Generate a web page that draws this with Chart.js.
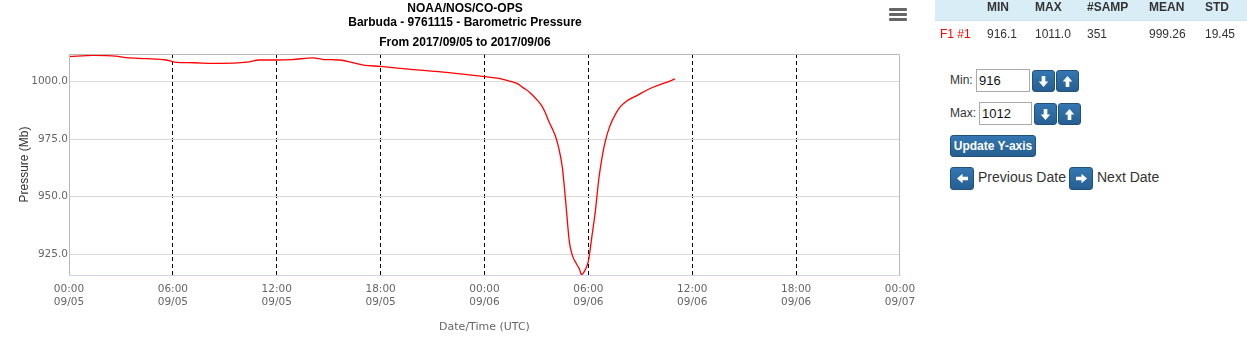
<!DOCTYPE html>
<html>
<head>
<meta charset="utf-8">
<script src="https://cdn.jsdelivr.net/npm/chart.js@4"></script>
<style>
  body { margin: 0; background: #fff; width: 1247px; height: 342px; overflow: hidden; position: relative;
         font-family: "Liberation Sans", Arial, sans-serif; color: #333; }
  #chartWrap { position: absolute; left: 0; top: 0; width: 930px; height: 342px; }
  .ttl { position: absolute; left: 0; width: 930px; text-align: center; font-weight: bold; font-size: 12px;
         line-height: 14px; color: #000; }
  #menu { position: absolute; left: 889px; top: 8px; width: 18px; }
  #menu span { display: block; height: 2.5px; background: #666; margin-bottom: 2.5px; border-radius: 1px; }

  #stats { position: absolute; left: 935px; top: 0; width: 312px; height: 46px; font-size: 12px; }
  #stats .head { position: absolute; left: 0; top: -6px; width: 312px; height: 26px; background: #d9edf7;
                 border-bottom: 1px solid #cfe3ee; }
  #stats span { position: absolute; white-space: nowrap; }
  #stats .h { font-weight: bold; top: 0; }
  #stats .d { top: 27px; }

  .lbl { position: absolute; font-size: 12px; color: #333; }
  .inp { position: absolute; box-sizing: border-box; border: 1px solid #aaa; background: #fff; font-size: 13px;
         padding: 3px 0 0 2px; color: #111; }
  .btn { position: absolute; box-sizing: border-box; border: 1px solid #22527b; border-radius: 3px;
         background: linear-gradient(#3477b2, #265f92); color: #fff; display: flex; align-items: center;
         justify-content: center; }
  .btn svg { width: 11px; height: 11px; }
  .btn.txt { font-size: 12px; font-weight: bold; }
  .nav { position: absolute; font-size: 14px; color: #333; }
</style>
</head>
<body>
<div id="chartWrap"><canvas id="pressureChart" width="930" height="342"></canvas></div>
<div class="ttl" style="top:1px">NOAA/NOS/CO-OPS</div>
<div class="ttl" style="top:15px">Barbuda - 9761115 - Barometric Pressure</div>
<div class="ttl" style="top:35px">From 2017/09/05 to 2017/09/06</div>
<div id="menu"><span></span><span></span><span></span></div>

<div id="stats"><div class="head"></div></div>

<div class="lbl" style="left:950px;top:73px">Min:</div>
<div class="inp" style="left:976px;top:69px;width:54px;height:23px" id="minBox"></div>
<div class="btn" style="left:1032px;top:70px;width:23px;height:22px"><svg viewBox="0 0 12 12"><path d="M4 0h4v6h3.2L6 12 0.8 6H4z" fill="#fff"/></svg></div>
<div class="btn" style="left:1056px;top:70px;width:23px;height:22px"><svg viewBox="0 0 12 12"><path d="M4 12h4V6h3.2L6 0 0.8 6H4z" fill="#fff"/></svg></div>

<div class="lbl" style="left:950px;top:106px">Max:</div>
<div class="inp" style="left:979px;top:102px;width:53px;height:23px" id="maxBox"></div>
<div class="btn" style="left:1034px;top:103px;width:23px;height:22px"><svg viewBox="0 0 12 12"><path d="M4 0h4v6h3.2L6 12 0.8 6H4z" fill="#fff"/></svg></div>
<div class="btn" style="left:1058px;top:103px;width:23px;height:22px"><svg viewBox="0 0 12 12"><path d="M4 12h4V6h3.2L6 0 0.8 6H4z" fill="#fff"/></svg></div>

<div class="btn txt" style="left:950px;top:135px;width:86px;height:22px">Update Y-axis</div>

<div class="btn" style="left:950px;top:167px;width:24px;height:23px"><svg viewBox="0 0 12 12"><path d="M12 4v4H6v3.2L0 6l6-5.2V4z" fill="#fff"/></svg></div>
<div class="nav" style="left:978px;top:169px">Previous Date</div>
<div class="btn" style="left:1069px;top:167px;width:24px;height:23px"><svg viewBox="0 0 12 12"><path d="M0 4v4h6v3.2L12 6 6 0.8V4z" fill="#fff"/></svg></div>
<div class="nav" style="left:1097px;top:169px">Next Date</div>

<script>
// barometric pressure samples (UTC), denser through the pressure drop
const sampleTimes = [
  '09/05 00:00', '09/05 01:24', '09/05 02:42', '09/05 03:18', '09/05 04:30', '09/05 05:36', '09/05 06:06',
  '09/05 07:12', '09/05 08:42', '09/05 10:18', '09/05 11:00', '09/05 12:00', '09/05 12:54', '09/05 14:06',
  '09/05 14:42', '09/05 15:36', '09/05 17:00', '09/05 18:00', '09/05 19:54', '09/05 21:48', '09/05 23:54',
  '09/06 00:54', '09/06 01:30', '09/06 02:00', '09/06 02:12', '09/06 02:36', '09/06 03:06', '09/06 03:18',
  '09/06 03:30', '09/06 03:42', '09/06 03:54', '09/06 04:06', '09/06 04:18', '09/06 04:30', '09/06 04:42',
  '09/06 04:54', '09/06 05:06', '09/06 05:18', '09/06 05:30', '09/06 05:36', '09/06 05:48', '09/06 06:00',
  '09/06 06:12', '09/06 06:24', '09/06 06:36', '09/06 06:48', '09/06 07:00', '09/06 07:12', '09/06 07:24',
  '09/06 07:48', '09/06 08:12', '09/06 08:48', '09/06 09:30', '09/06 10:06', '09/06 10:42', '09/06 11:00'
];
const pressure = [
  1010.9, 1011.4, 1011.1, 1010.4, 1010.0, 1009.4, 1008.5,
  1008.2, 1007.9, 1008.5, 1009.4, 1009.4, 1009.6, 1010.3,
  1009.6, 1009.4, 1007.2, 1006.6, 1005.2, 1004.0, 1002.3,
  1001.3, 1000.1, 998.7, 997.5, 995.4, 991.5, 989.6,
  986.7, 983.0, 979.8, 976.3, 970.8, 962.5, 947.0,
  930.5, 924.0, 921.0, 918.3, 916.1, 918.0, 922.0,
  932.6, 943.5, 957.5, 967.5, 974.8, 979.8, 983.5,
  988.7, 991.5, 993.9, 996.8, 998.6, 1000.2, 1001.2
];

const yMin = 916;
const yMax = 1012;
const yTicks = [925, 950, 975, 1000];
const xTickLabels = [
  ['00:00', '09/05'], ['06:00', '09/05'], ['12:00', '09/05'], ['18:00', '09/05'], ['00:00', '09/06'],
  ['06:00', '09/06'], ['12:00', '09/06'], ['18:00', '09/06'], ['00:00', '09/07']
];

const statHeaders = ['MIN', 'MAX', '#SAMP', 'MEAN', 'STD'];
const statSeries = 'F1 #1';
const statValues = ['916.1', '1011.0', '351', '999.26', '19.45'];

// stats table
const statCols = [52, 100, 152, 214, 270];
const stats = document.getElementById('stats');
stats.insertAdjacentHTML('beforeend', `<span class="d" style="left:5px;color:#f00">${statSeries}</span>`);
statHeaders.forEach((h, i) => {
  stats.insertAdjacentHTML('beforeend', `<span class="h" style="left:${statCols[i]}px">${h}</span>`);
  stats.insertAdjacentHTML('beforeend', `<span class="d" style="left:${statCols[i]}px">${statValues[i]}</span>`);
});
document.getElementById('minBox').textContent = yMin;
document.getElementById('maxBox').textContent = yMax;

// hours since 09/05 00:00
function toHours(s) {
  const day = parseInt(s.slice(3, 5), 10);
  const hh = parseInt(s.slice(6, 8), 10);
  const mm = parseInt(s.slice(9, 11), 10);
  return (day - 5) * 24 + hh + mm / 60;
}

const points = sampleTimes.map((t, i) => ({ x: toHours(t), y: pressure[i] }));

// gray frame around the plot, bottom edge is the x axis line
const plotFrame = {
  id: 'plotFrame',
  afterDraw(chart) {
    const { ctx, chartArea: a } = chart;
    ctx.save();
    ctx.strokeStyle = '#b8b8b8';
    ctx.lineWidth = 1;
    ctx.beginPath();
    ctx.moveTo(a.left + 0.5, a.bottom);
    ctx.lineTo(a.left + 0.5, a.top + 0.5);
    ctx.lineTo(a.right - 0.5, a.top + 0.5);
    ctx.lineTo(a.right - 0.5, a.bottom);
    ctx.stroke();
    ctx.restore();
  }
};

const tickFont = { family: 'DejaVu Sans', size: 10.5 };

new Chart(document.getElementById('pressureChart'), {
  type: 'line',
  data: {
    datasets: [{
      data: points,
      borderColor: '#ff0000',
      borderWidth: 1.3,
      pointRadius: 0,
      tension: 0.3,
      cubicInterpolationMode: 'monotone',
      fill: false
    }]
  },
  options: {
    responsive: false,
    animation: false,
    devicePixelRatio: 1,
    layout: { padding: { top: 54, right: 30, bottom: 0, left: 0 } },
    plugins: { legend: { display: false }, tooltip: { enabled: false } },
    scales: {
      x: {
        type: 'linear',
        min: 0,
        max: 48,
        afterFit: s => { s.height = 67; },
        ticks: {
          stepSize: 6,
          autoSkip: false,
          maxRotation: 0,
          padding: 8,
          color: '#666',
          font: tickFont,
          callback: (v, i) => xTickLabels[i]
        },
        grid: {
          drawTicks: false,
          color: c => (c.tick && (c.tick.value === 0 || c.tick.value === 48)) ? 'rgba(0,0,0,0)' : '#000',
          lineWidth: 1
        },
        border: { display: true, color: '#ccd6eb', width: 1, dash: [4, 3] },
        title: {
          display: true,
          text: 'Date/Time (UTC)',
          color: '#666',
          font: { family: 'DejaVu Sans', size: 11 },
          padding: { top: 0, bottom: 8 }
        }
      },
      y: {
        min: yMin,
        max: yMax,
        afterFit: s => { s.width = 69; },
        afterBuildTicks: s => { s.ticks = yTicks.map(v => ({ value: v })); },
        ticks: {
          padding: 1,
          color: '#666',
          font: tickFont,
          callback: v => v.toFixed(1)
        },
        grid: { drawTicks: false, color: '#d8d8d8', lineWidth: 1 },
        border: { display: false },
        title: {
          display: true,
          text: 'Pressure (Mb)',
          color: '#333',
          font: { family: 'Liberation Sans', size: 12 },
          padding: { top: 17, bottom: 0 }
        }
      }
    }
  },
  plugins: [plotFrame]
});
</script>
</body>
</html>
